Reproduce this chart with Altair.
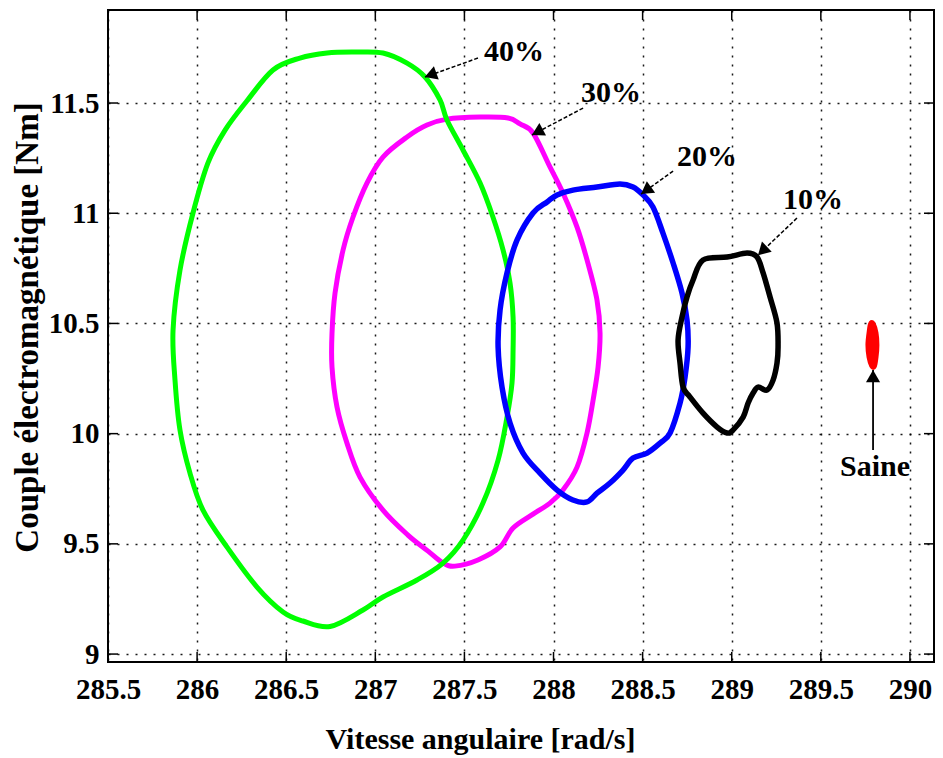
import altair as alt
import pandas as pd

# Axes
X_DOMAIN = [285.5, 290.135]
Y_DOMAIN = [8.964, 11.922]
x_ticks = [285.5, 286, 286.5, 287, 287.5, 288, 288.5, 289, 289.5, 290]
y_ticks = [9, 9.5, 10, 10.5, 11, 11.5]

# 40 % (green)
green_x = [285.865, 285.876, 285.904, 285.960, 286.033, 286.168, 286.336, 286.482, 286.594, 286.746,
           286.931, 287.043, 287.234, 287.380, 287.492, 287.604, 287.689, 287.739, 287.767, 287.773,
           287.773, 287.756, 287.717, 287.660, 287.588, 287.492, 287.402, 287.363, 287.279, 287.178,
           287.043, 286.886, 286.729, 286.577, 286.426, 286.280, 286.157, 286.061, 285.977, 285.904]
green_y = [10.470, 10.243, 10.016, 9.821, 9.653, 9.485, 9.304, 9.191, 9.150, 9.125,
           9.200, 9.259, 9.336, 9.413, 9.517, 9.685, 9.880, 10.075, 10.230, 10.379,
           10.529, 10.683, 10.833, 10.983, 11.137, 11.287, 11.423, 11.514, 11.618, 11.681,
           11.727, 11.731, 11.727, 11.704, 11.650, 11.510, 11.377, 11.228, 11.001, 10.742]

# 30 % (magenta)
magenta_x = [286.757, 286.757, 286.785, 286.841, 286.914, 287.043, 287.183, 287.296, 287.380, 287.447,
             287.576, 287.700, 287.773, 287.885, 287.980, 288.053, 288.132, 288.188, 288.222, 288.250,
             288.261, 288.244, 288.188, 288.132, 288.053, 287.980, 287.885, 287.812, 287.745, 287.588,
             287.402, 287.290, 287.178, 287.043, 286.953, 286.875, 286.819, 286.774]
magenta_y = [10.456, 10.302, 10.121, 9.957, 9.803, 9.653, 9.540, 9.467, 9.413, 9.399,
             9.427, 9.486, 9.572, 9.635, 9.685, 9.744, 9.848, 10.003, 10.152, 10.302,
             10.456, 10.606, 10.788, 10.937, 11.092, 11.210, 11.364, 11.405, 11.432, 11.436,
             11.427, 11.400, 11.346, 11.255, 11.137, 10.983, 10.833, 10.638]

# 20 % (blue)
blue_x = [287.689, 287.711, 287.756, 287.829, 287.924, 288.020, 288.109, 288.188, 288.244, 288.317,
          288.390, 288.446, 288.525, 288.598, 288.654, 288.710, 288.738, 288.755, 288.749, 288.721,
          288.671, 288.614, 288.558, 288.502, 288.446, 288.373, 288.244, 288.109, 288.020, 287.964,
          287.885, 287.795, 287.739, 287.700]
blue_y = [10.393, 10.211, 10.048, 9.912, 9.821, 9.744, 9.699, 9.690, 9.730, 9.776,
          9.835, 9.889, 9.912, 9.957, 10.003, 10.139, 10.257, 10.393, 10.515, 10.638,
          10.774, 10.910, 11.028, 11.083, 11.119, 11.133, 11.119, 11.105, 11.083, 11.051,
          11.001, 10.878, 10.729, 10.561]

# 10 % (black)
black_x = [288.699, 288.710, 288.727, 288.766, 288.839, 288.918, 288.974, 289.007, 289.064, 289.092,
           289.120, 289.148, 289.198, 289.232, 289.254, 289.260, 289.254, 289.215, 289.176, 289.142,
           289.086, 288.974, 288.839, 288.783, 288.749, 288.721]
black_y = [10.425, 10.320, 10.211, 10.166, 10.093, 10.030, 10.003, 10.016, 10.075, 10.139,
           10.184, 10.211, 10.198, 10.243, 10.320, 10.393, 10.502, 10.620, 10.729, 10.801,
           10.819, 10.801, 10.788, 10.697, 10.620, 10.529]

# Saine (red)
red_x = [289.787, 289.804, 289.809, 289.804, 289.793, 289.776, 289.770, 289.776]
red_y = [10.500, 10.456, 10.402, 10.348, 10.305, 10.348, 10.402, 10.456]

# Annotations
labels = ["40%", "30%", "20%", "10%", "Saine"]
label_x = [287.778, 288.323, 288.861, 289.456, 289.804]
label_y = [11.731, 11.545, 11.255, 11.060, 9.848]
arrow_x = [287.576, 288.166, 288.671, 289.366, 289.793]
arrow_y = [11.704, 11.477, 11.191, 10.978, 9.926]
tip_x = [287.279, 287.879, 288.491, 289.148, 289.793]
tip_y = [11.618, 11.355, 11.087, 10.810, 10.289]
head_x = [287.310, 287.909, 288.519, 289.172, 289.793]
head_y = [11.627, 11.368, 11.103, 10.829, 10.261]
head_angle = [250, 242, 234, 226.5, 0]

FONT = "Liberation Serif"
W, H = 826, 652

xscale = alt.Scale(domain=X_DOMAIN, nice=False, zero=False)
yscale = alt.Scale(domain=Y_DOMAIN, nice=False, zero=False)

xaxis = alt.Axis(values=x_ticks, format=".1~f", grid=True, gridColor="black", gridDash=[2, 7],
                 gridWidth=1.5, gridOpacity=0.9, ticks=False, tickSize=0, domain=False,
                 labelFont=FONT, labelFontWeight="bold", labelFontSize=29, labelColor="black",
                 labelPadding=36, labelBaseline="alphabetic", labelFlush=False, labelOverlap=False,
                 title="Vitesse angulaire [rad/s]", titleFont=FONT, titleFontWeight="bold",
                 titleFontSize=30, titleColor="black", titleX=372, titleY=86,
                 titleAlign="center", titleBaseline="alphabetic")
yaxis = alt.Axis(values=y_ticks, format=".1~f", grid=True, gridColor="black", gridDash=[2, 7],
                 gridWidth=1.5, gridOpacity=0.9, ticks=False, tickSize=0, domain=False,
                 labelFont=FONT, labelFontWeight="bold", labelFontSize=29, labelColor="black",
                 labelPadding=9, labelBaseline="middle", labelFlush=False, labelOverlap=False,
                 title="Couple électromagnétique [Nm]", titleFont=FONT, titleFontWeight="bold",
                 titleFontSize=33, titleColor="black", titleX=-81, titleY=317, titleAngle=270,
                 titleAlign="center", titleBaseline="middle")

X = alt.X("x:Q", scale=xscale, axis=xaxis)
Y = alt.Y("y:Q", scale=yscale, axis=yaxis)


def loop(xs, ys):
    return pd.DataFrame({"x": list(xs), "y": list(ys), "i": list(range(len(xs)))})


series = [
    (magenta_x, magenta_y, "#FF00FF", 5),
    (green_x, green_y, "#00FF00", 5),
    (blue_x, blue_y, "#0000FF", 5.5),
    (black_x, black_y, "#000000", 5.5),
    (red_x, red_y, "#FF0000", 7),
]

layers = []

# grid/axes carrier + inward tick marks
xt = pd.DataFrame({"x": x_ticks})
yt = pd.DataFrame({"y": y_ticks})
layers.append(alt.Chart(xt).mark_rule(color="black", strokeWidth=1.5).encode(
    x=X, y=alt.value(H), y2=alt.value(H - 10)))
layers.append(alt.Chart(xt).mark_rule(color="black", strokeWidth=1.5).encode(
    x=X, y=alt.value(0), y2=alt.value(10)))
layers.append(alt.Chart(yt).mark_rule(color="black", strokeWidth=1.5).encode(
    y=Y, x=alt.value(0), x2=alt.value(10)))
layers.append(alt.Chart(yt).mark_rule(color="black", strokeWidth=1.5).encode(
    y=Y, x=alt.value(W), x2=alt.value(W - 10)))

for xs, ys, col, sw in series:
    layers.append(alt.Chart(loop(xs, ys)).mark_line(
        color=col, strokeWidth=sw, strokeJoin="round", strokeCap="round",
        interpolate="cardinal-closed"
    ).encode(x=X, y=Y, order=alt.Order("i:Q")))

ann = pd.DataFrame({
    "label": labels, "x": label_x, "y": label_y,
    "ax": arrow_x, "ay": arrow_y, "tx": tip_x, "ty": tip_y,
    "hx": head_x, "hy": head_y, "angle": head_angle,
})
dashed = ann.iloc[:4]
solid = ann.iloc[4:]

layers.append(alt.Chart(dashed).mark_rule(color="black", strokeWidth=1.5, strokeDash=[4, 2]).encode(
    x=alt.X("ax:Q", scale=xscale), y=alt.Y("ay:Q", scale=yscale),
    x2="tx:Q", y2="ty:Q"))
layers.append(alt.Chart(solid).mark_rule(color="black", strokeWidth=1.8).encode(
    x=alt.X("ax:Q", scale=xscale), y=alt.Y("ay:Q", scale=yscale),
    x2="tx:Q", y2="ty:Q"))
layers.append(alt.Chart(ann).mark_point(shape="triangle-up", filled=True, color="black",
                                        size=200, opacity=1).encode(
    x=alt.X("hx:Q", scale=xscale), y=alt.Y("hy:Q", scale=yscale),
    angle=alt.Angle("angle:Q", scale=None)))
layers.append(alt.Chart(ann).mark_text(font=FONT, fontWeight="bold", fontSize=30, color="black",
                                       align="center", baseline="middle").encode(
    x=alt.X("x:Q", scale=xscale), y=alt.Y("y:Q", scale=yscale), text="label:N"))

chart = alt.layer(*layers).properties(
    width=W, height=H,
    autosize=alt.AutoSizeParams(type="none"),
    padding={"left": 108, "top": 10, "right": 9, "bottom": 96},
    background="white",
).configure_view(stroke="black", strokeWidth=2)

chart.save("out.html", embed_options={"renderer": "svg", "actions": False})
